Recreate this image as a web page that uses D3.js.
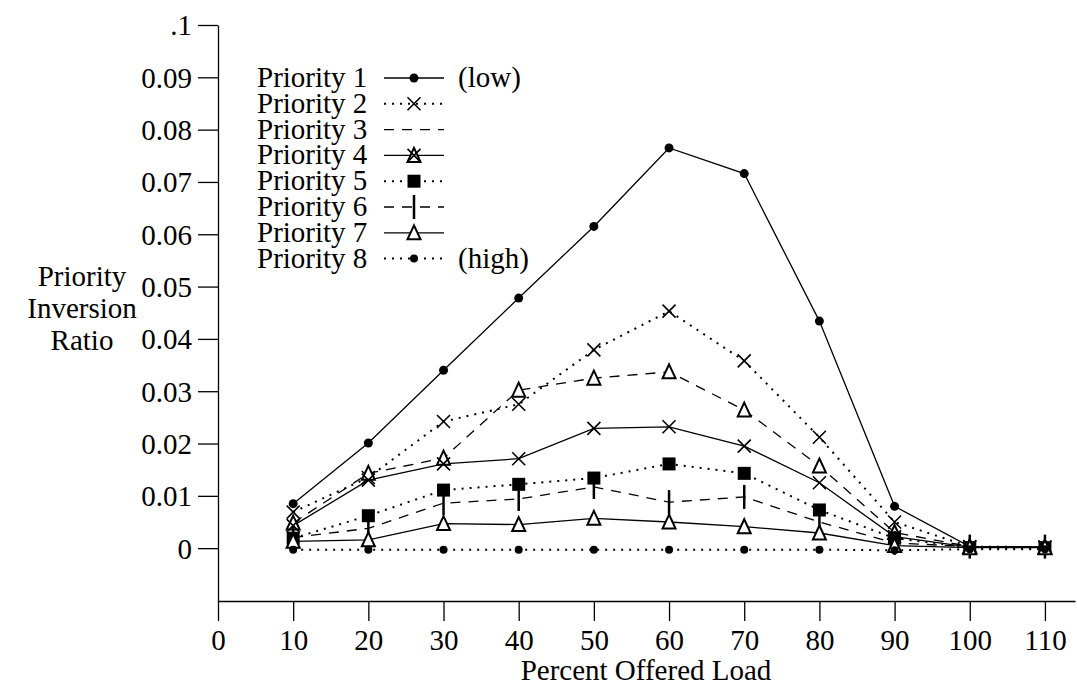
<!DOCTYPE html>
<html>
<head>
    <title>Priority Inversion Ratio</title>
    <script src="https://d3js.org/d3.v7.min.js"></script>
    <style>
        body {
            margin: 0;
            background: #fff;
        }
        svg text {
            font-family: "Liberation Serif", "Tinos", "Times New Roman", "Nimbus Roman", "DejaVu Serif", serif;
            font-size: 29px;
            fill: #000;
        }
    </style>
</head>
<body>
    <div id="chart"></div>
    <script>
        // offered load (%)
        let loads = [10, 20, 30, 40, 50, 60, 70, 80, 90, 100, 110];

        // priority inversion ratio, one array per priority
        let prio1 = [0.0085, 0.0201, 0.0340, 0.0478, 0.0615, 0.0765, 0.0716, 0.0434, 0.0080, 0.0003, 0.0002];
        let prio2 = [0.0069, 0.0135, 0.0242, 0.0275, 0.0379, 0.0453, 0.0358, 0.0212, 0.0050, 0.0003, 0.0002];
        let prio3 = [0.0048, 0.0143, 0.0172, 0.0302, 0.0325, 0.0337, 0.0264, 0.0157, 0.0030, 0.0003, 0.0002];
        let prio4 = [0.0043, 0.0130, 0.0161, 0.0171, 0.0229, 0.0232, 0.0195, 0.0125, 0.0022, 0.0002, 0.0002];
        let prio5 = [0.0019, 0.0062, 0.0111, 0.0122, 0.0134, 0.0161, 0.0143, 0.0073, 0.0019, 0.0001, 0.0001];
        let prio6 = [0.0020, 0.0038, 0.0086, 0.0094, 0.0117, 0.0088, 0.0098, 0.0050, 0.0010, 0.0003, 0.0003];
        let prio7 = [0.0013, 0.0016, 0.0047, 0.0045, 0.0057, 0.0050, 0.0041, 0.0029, 0.0005, 0.0001, 0.0001];
        let prio8 = [-0.0003, -0.0003, -0.0003, -0.0003, -0.0003, -0.0003, -0.0003, -0.0003, -0.0004, -0.0002, -0.0002];

        let legendLabels = ["Priority 1", "Priority 2", "Priority 3", "Priority 4",
                            "Priority 5", "Priority 6", "Priority 7", "Priority 8"];
        let legendNotes = ["(low)", "", "", "", "", "", "", "(high)"];

        let xTicks = [0, 10, 20, 30, 40, 50, 60, 70, 80, 90, 100, 110];
        let yTicks = [0, 0.01, 0.02, 0.03, 0.04, 0.05, 0.06, 0.07, 0.08, 0.09, 0.1];
        let yTickLabels = ["0", "0.01", "0.02", "0.03", "0.04", "0.05", "0.06", "0.07", "0.08", "0.09", ".1"];

        let width = 1077;
        let height = 690;
        let serif = "'Liberation Serif', 'Tinos', 'Times New Roman', 'Nimbus Roman', 'DejaVu Serif', serif";

        // line style and marker of each curve in the plot
        let series = [
            {values: prio1, dash: null, marker: "dot"},
            {values: prio2, dash: "dot", marker: "cross"},
            {values: prio3, dash: "dash", marker: "tri"},
            {values: prio4, dash: null, marker: "cross"},
            {values: prio5, dash: "dot", marker: "square"},
            {values: prio6, dash: "dash", marker: "bar"},
            {values: prio7, dash: null, marker: "tri"},
            {values: prio8, dash: "dot", marker: "smalldot"}
        ];
        // what the key shows for each entry
        let legendStyles = [
            {dash: null, marker: ["dot"]},
            {dash: "dot", marker: ["cross"]},
            {dash: "dash", marker: []},
            {dash: null, marker: ["tri", "cross"]},
            {dash: "dot", marker: ["square"]},
            {dash: "dash", marker: ["bar"]},
            {dash: null, marker: ["tri"]},
            {dash: "dot", marker: ["smalldot"]}
        ];

        let x = d3.scaleLinear()
            .domain([0, 114])
            .range([218, 1075]);

        let y = d3.scaleLinear()
            .domain([-0.0101, 0.1])
            .range([601, 25]);

        let svg = d3.select("#chart").append("svg")
            .attr("width", width)
            .attr("height", height)
            .attr("font-family", serif);

        function applyDash(sel, dash) {
            if (dash === "dot") {
                sel.attr("stroke-dasharray", "2,6").attr("stroke-width", 2);
            } else if (dash === "dash") {
                sel.attr("stroke-dasharray", "10,8").attr("stroke-width", 1.3);
            } else {
                sel.attr("stroke-width", 1.3);
            }
        }

        function drawMarker(g, type, cx, cy) {
            if (type === "dot") {
                g.append("circle").attr("cx", cx).attr("cy", cy).attr("r", 4.5).attr("fill", "#000");
            } else if (type === "smalldot") {
                g.append("circle").attr("cx", cx).attr("cy", cy).attr("r", 4).attr("fill", "#000");
            } else if (type === "cross") {
                let s = 6.5;
                g.append("path")
                    .attr("d", `M${cx - s},${cy - s}L${cx + s},${cy + s}M${cx - s},${cy + s}L${cx + s},${cy - s}`)
                    .attr("stroke", "#000").attr("stroke-width", 1.6).attr("fill", "none");
            } else if (type === "tri") {
                let s = 6.5;
                g.append("path")
                    .attr("d", `M${cx},${cy - s - 1}L${cx + s},${cy + s}L${cx - s},${cy + s}Z`)
                    .attr("stroke", "#000").attr("stroke-width", 2).attr("fill", "#fff");
            } else if (type === "square") {
                let s = 6.5;
                g.append("rect")
                    .attr("x", cx - s).attr("y", cy - s)
                    .attr("width", 2 * s).attr("height", 2 * s)
                    .attr("fill", "#000");
            } else if (type === "bar") {
                g.append("line")
                    .attr("x1", cx).attr("x2", cx)
                    .attr("y1", cy - 12).attr("y2", cy + 12)
                    .attr("stroke", "#000").attr("stroke-width", 2.5);
            }
        }

        // axes
        let xAxis = svg.append("g")
            .attr("transform", "translate(0,601)")
            .call(d3.axisBottom(x)
                .tickValues(xTicks)
                .tickSize(20)
                .tickSizeOuter(0)
                .tickPadding(8)
                .tickFormat(d3.format("d")));

        let yAxis = svg.append("g")
            .attr("transform", "translate(218,0)")
            .call(d3.axisLeft(y)
                .tickValues(yTicks)
                .tickSize(20)
                .tickSizeOuter(0)
                .tickPadding(6)
                .tickFormat((d, i) => yTickLabels[i]));

        // d3 axes set a sans-serif family on their groups; put the serif back
        svg.selectAll("g").attr("font-family", serif).attr("font-size", 29);
        svg.selectAll(".domain, .tick line")
            .attr("stroke", "#000")
            .attr("stroke-width", 1.3);
        svg.selectAll(".tick text").attr("fill", "#000");
        yAxis.selectAll(".tick text").attr("dy", "0.34em");
        xAxis.selectAll(".tick text").attr("dy", "0.72em");

        svg.append("text")
            .attr("x", 646)
            .attr("y", 680)
            .attr("text-anchor", "middle")
            .text("Percent Offered Load");

        svg.append("text")
            .attr("text-anchor", "middle")
            .selectAll("tspan")
            .data(["Priority", "Inversion", "Ratio"])
            .join("tspan")
            .attr("x", 82)
            .attr("y", (d, i) => 286 + i * 32)
            .text(d => d);

        // curves
        let line = d3.line()
            .x((d, i) => x(loads[i]))
            .y(d => y(d));

        let plot = svg.append("g");
        series.forEach(s => {
            plot.append("path")
                .attr("d", line(s.values))
                .attr("fill", "none")
                .attr("stroke", "#000")
                .call(applyDash, s.dash);
        });
        series.forEach(s => {
            s.values.forEach((v, i) => drawMarker(plot, s.marker, x(loads[i]), y(v)));
        });

        // key
        let legend = svg.append("g");
        legendLabels.forEach((label, i) => {
            let cy = 78 + i * 25.8;
            legend.append("text")
                .attr("x", 257)
                .attr("y", cy + 9)
                .text(label);
            legend.append("line")
                .attr("x1", 384).attr("x2", 444)
                .attr("y1", cy).attr("y2", cy)
                .attr("stroke", "#000")
                .call(applyDash, legendStyles[i].dash);
            legendStyles[i].marker.forEach(m => drawMarker(legend, m, 414, cy));
            if (legendNotes[i]) {
                legend.append("text")
                    .attr("x", 458)
                    .attr("y", cy + 9)
                    .text(legendNotes[i]);
            }
        });
    </script>
</body>
</html>
